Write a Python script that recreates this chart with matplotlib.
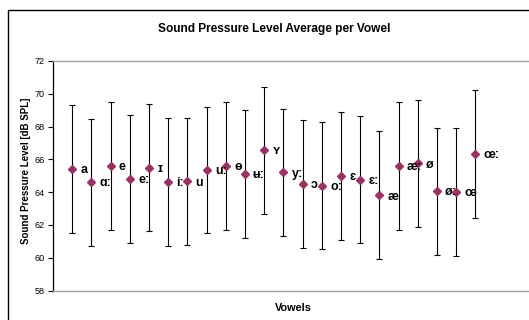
import matplotlib
matplotlib.use("Agg")
import matplotlib.pyplot as plt
from matplotlib.patches import Rectangle

# Values
vowels = ["a", "ɑ:", "e", "e:", "ɪ", "i:", "u", "u:", "ɵ", "ʉ:", "ʏ",
          "y:", "ɔ", "o:", "ɛ", "ɛ:", "æ", "æ:", "ø", "ø:", "œ", "œ:"]
spl_mean = [65.4, 64.6, 65.6, 64.8, 65.5, 64.6, 64.65, 65.35, 65.6, 65.1, 66.55,
            65.2, 64.5, 64.4, 65.0, 64.75, 63.8, 65.6, 65.75, 64.05, 64.0, 66.35]
spl_err = [3.9, 3.88, 3.88, 3.88, 3.88, 3.9, 3.88, 3.87, 3.88, 3.89, 3.88,
           3.9, 3.9, 3.89, 3.89, 3.88, 3.9, 3.91, 3.88, 3.88, 3.89, 3.91]
y_ticks = [58, 60, 62, 64, 66, 68, 70, 72]

FONT = ["Liberation Sans", "DejaVu Sans"]
plt.rcParams["font.family"] = FONT
MARKER = "#993366"
W, H = 529, 320

fig = plt.figure(figsize=(W / 100, H / 100), dpi=100)
fig.patch.set_facecolor("white")

# outer chart-area border (cropped on right/bottom in the reference)
fig.patches.append(Rectangle((8 / W, -0.2), 1.2, 1.2 - 10 / H, transform=fig.transFigure,
                             fill=False, edgecolor="black", linewidth=1.0))

ax = fig.add_axes([53 / W, (H - 290.5) / H, 480 / W, 229.5 / H])
xs = list(range(1, len(vowels) + 1))

ax.errorbar(xs, spl_mean, yerr=spl_err, fmt="none", ecolor="black",
            elinewidth=0.8, capsize=1.9, capthick=0.8, zorder=2)
ax.plot(xs, spl_mean, linestyle="none", marker="D", markersize=4.0,
        color=MARKER, markeredgecolor=MARKER, zorder=3)

for x, y, lab in zip(xs, spl_mean, vowels):
    ax.annotate(lab, (x, y), xytext=(6.0, -0.8), textcoords="offset points",
                ha="left", va="center", fontsize=9, fontweight="bold",
                family=FONT, color="black", zorder=4)

ax.set_xlim(0, 25)
ax.set_ylim(58, 72)
ax.set_yticks(y_ticks)
ax.set_xticks([])
ax.tick_params(axis="y", direction="out", length=3.6, width=0.8,
               labelsize=6.5, pad=2.5, colors="black")

ax.spines["left"].set_color("black")
ax.spines["left"].set_linewidth(0.9)
for s in ("top", "bottom"):
    ax.spines[s].set_color("#a0a0a0")
    ax.spines[s].set_linewidth(1.0)
ax.spines["right"].set_visible(False)

ax.set_ylabel("Sound Pressure Level [dB SPL]", fontsize=7.0, fontweight="bold")
ax.yaxis.set_label_coords(-0.045, 0.52)
ax.set_xlabel("Vowels", fontsize=7.8, fontweight="bold")
ax.xaxis.set_label_coords(0.5, -0.056)

fig.text(274 / W, (H - 29) / H, "Sound Pressure Level Average per Vowel",
         ha="center", va="center", fontsize=8.6, fontweight="bold")

fig.savefig("out.png", dpi=100, facecolor="white")
